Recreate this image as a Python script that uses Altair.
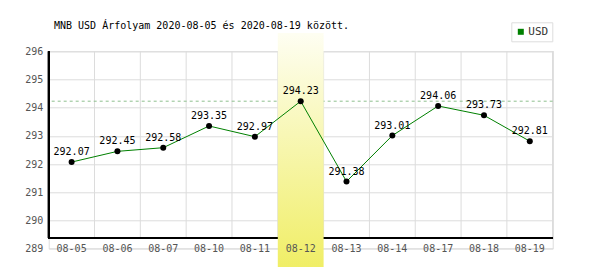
import altair as alt
import pandas as pd

# ---- data ----
dates = ["08-05", "08-06", "08-07", "08-10", "08-11", "08-12",
         "08-13", "08-14", "08-17", "08-18", "08-19"]
values = [292.07, 292.45, 292.58, 293.35, 292.97, 294.23,
          291.38, 293.01, 294.06, 293.73, 292.81]
y_ticks = [289, 290, 291, 292, 293, 294, 295, 296]
series_name = "USD"
highlight_date = "08-12"
title_text = "MNB USD Árfolyam 2020-08-05 és 2020-08-19 között."

df = pd.DataFrame({"date": dates, "value": values, "series": series_name})
df["label"] = df["value"].map(lambda v: f"{v:.2f}")
hl_df = pd.DataFrame({"date": [highlight_date]})

W = 504
H = 197.3
AXIS_Y = 187  # pixel position of black x axis line inside plot
MONO = "DejaVu Sans Mono"
GRID = "#dcdcdc"

xscale = alt.Scale(type="band", domain=dates, paddingInner=0, paddingOuter=0)
yscale = alt.Scale(domain=[289, 296], nice=False, zero=False)

x_axis = alt.Axis(title=None, grid=False, domain=False, ticks=False, tickSize=0,
                  labelAngle=0, labelAlign="center", labelBaseline="middle",
                  labelPadding=0, labelFont=MONO, labelFontSize=10,
                  labelColor="#555555", labelOverlap=False, bandPosition=0.5,
                  zindex=1)
y_axis = alt.Axis(title=None, values=y_ticks, grid=True, gridColor=GRID,
                  domain=False, ticks=False, tickSize=0, labelPadding=6,
                  labelOverlap=False, labelFont=MONO, labelFontSize=10,
                  labelColor="#555555")

def X(**kw):
    return alt.X("date:N", scale=xscale, sort=dates, axis=x_axis, **kw)

def Y(field="value:Q"):
    return alt.Y(field, scale=yscale, axis=y_axis)

base = alt.Chart(df)

vgrid = base.mark_rule(color=GRID, strokeWidth=1).encode(
    x=X(bandPosition=0), y=alt.value(0), y2=alt.value(AXIS_Y))
vgrid_right = base.mark_rule(color=GRID, strokeWidth=1).encode(
    x=alt.value(W), y=alt.value(0), y2=alt.value(AXIS_Y))

max_rule = base.mark_rule(color="#8fbf8f", strokeDash=[3, 3], strokeWidth=1).encode(
    y=Y("max(value):Q"))

x_axis_line = base.mark_rule(color="black", strokeWidth=1.5).encode(
    x=alt.value(0), x2=alt.value(W), y=alt.value(AXIS_Y))
y_axis_line = base.mark_rule(color="black", strokeWidth=1.5).encode(
    x=alt.value(0), y=alt.value(0), y2=alt.value(AXIS_Y))

grad = alt.LinearGradient(
    gradient="linear",
    stops=[alt.GradientStop(color="#fefef2", offset=0),
           alt.GradientStop(color="#f0ee66", offset=1)],
    x1=0, x2=0, y1=0, y2=1)
highlight = alt.Chart(hl_df).mark_rect(color=grad).encode(
    x=X(), y=alt.value(-18.3), y2=alt.value(215.7))

line = base.mark_line(strokeWidth=1).encode(
    x=X(), y=Y(),
    color=alt.Color("series:N", scale=alt.Scale(domain=[series_name], range=["#008000"]),
                    legend=alt.Legend(title=None, orient="none", legendX=462.6, legendY=-29,
                                      padding=4, strokeColor="#dddddd", fillColor="white",
                                      symbolType="square", symbolSize=36,
                                      symbolFillColor="#008000", symbolStrokeWidth=0,
                                      labelFont=MONO, labelFontSize=11,
                                      labelColor="#333333", labelOffset=2)))

points = base.mark_circle(color="black", size=36, opacity=1).encode(x=X(), y=Y())

labels = base.mark_text(font=MONO, fontSize=10, color="black", baseline="alphabetic",
                        dy=-7).encode(x=X(), y=Y(), text="label:N")

chart = alt.layer(
    vgrid, vgrid_right, max_rule, x_axis_line, y_axis_line,
    highlight, line, points, labels
).properties(
    width=W, height=H,
    autosize="none",
    padding={"left": 48.7, "top": 51.3, "right": 600 - 48.7 - W, "bottom": 270 - 51.3 - H},
    title=alt.Title(title_text, anchor="start", frame="group", font=MONO, fontSize=10,
                    fontWeight="normal", color="black", dx=5.3, dy=12.7, offset=4),
).configure_view(stroke=None).configure(background="white")

chart.save("out.html", embed_options={"renderer": "svg", "actions": False})
